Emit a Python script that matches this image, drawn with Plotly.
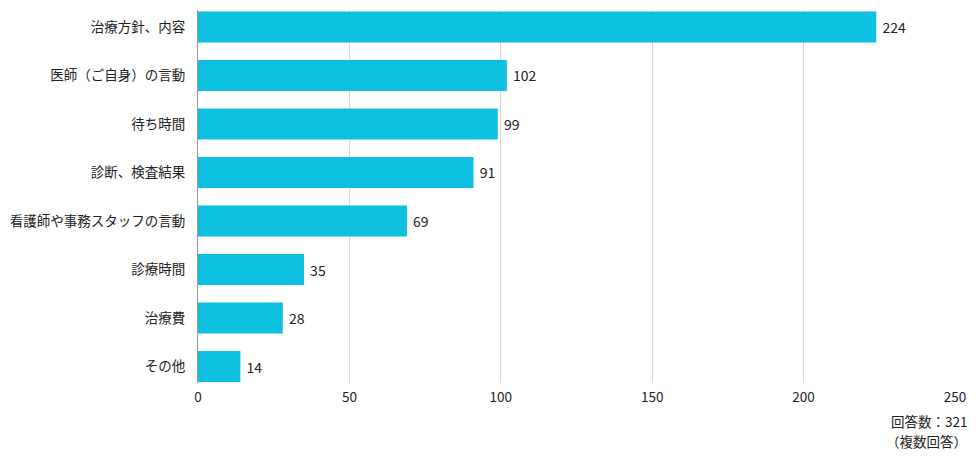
import plotly.graph_objects as go

categories = ["治療方針、内容", "医師（ご自身）の言動", "待ち時間", "診断、検査結果",
              "看護師や事務スタッフの言動", "診療時間", "治療費", "その他"]
values = [224, 102, 99, 91, 69, 35, 28, 14]
x_ticks = [0, 50, 100, 150, 200, 250]

font = "Noto Sans CJK JP"

fig = go.Figure(go.Bar(
    y=categories, x=values, orientation="h",
    marker=dict(color="#0dc0e0", line=dict(width=0)),
    text=["\u00a0" + str(v) for v in values], textposition="outside",
    textfont=dict(size=14, color="#222", family=font),
    cliponaxis=False,
))

fig.update_layout(
    width=976, height=459,
    margin=dict(l=198, r=17, t=10, b=76),
    paper_bgcolor="white", plot_bgcolor="white",
    bargap=0.36,
    showlegend=False,
    font=dict(family=font, size=13.5, color="#333"),
    xaxis=dict(range=[0, 250], tickvals=x_ticks, showgrid=True, gridcolor="#d9d9d9",
               gridwidth=1, zeroline=False, showline=False,
               ticks="outside", ticklen=2, tickcolor="rgba(0,0,0,0)",
               tickfont=dict(size=13.5, color="#222")),
    yaxis=dict(categoryorder="array", categoryarray=categories,
               range=[7.34, -0.35], showgrid=False, zeroline=False,
               showline=True, linecolor="#999", linewidth=1,
               ticks="", ticklabelstandoff=9,
               tickfont=dict(size=13.5, color="#222")),
    annotations=[
        dict(text="回答数：321", xref="paper", yref="paper",
             x=1.0 + 14/761, y=-(421 - 383) / 373, xanchor="right", yanchor="middle",
             showarrow=False, align="right",
             font=dict(size=13.5, color="#222", family=font)),
        dict(text="（複数回答）", xref="paper", yref="paper",
             x=1.0 + 14/761, y=-(441 - 383) / 373, xanchor="right", yanchor="middle",
             showarrow=False, align="right",
             font=dict(size=13.5, color="#222", family=font)),
    ],
)

fig.write_html("out.html")
